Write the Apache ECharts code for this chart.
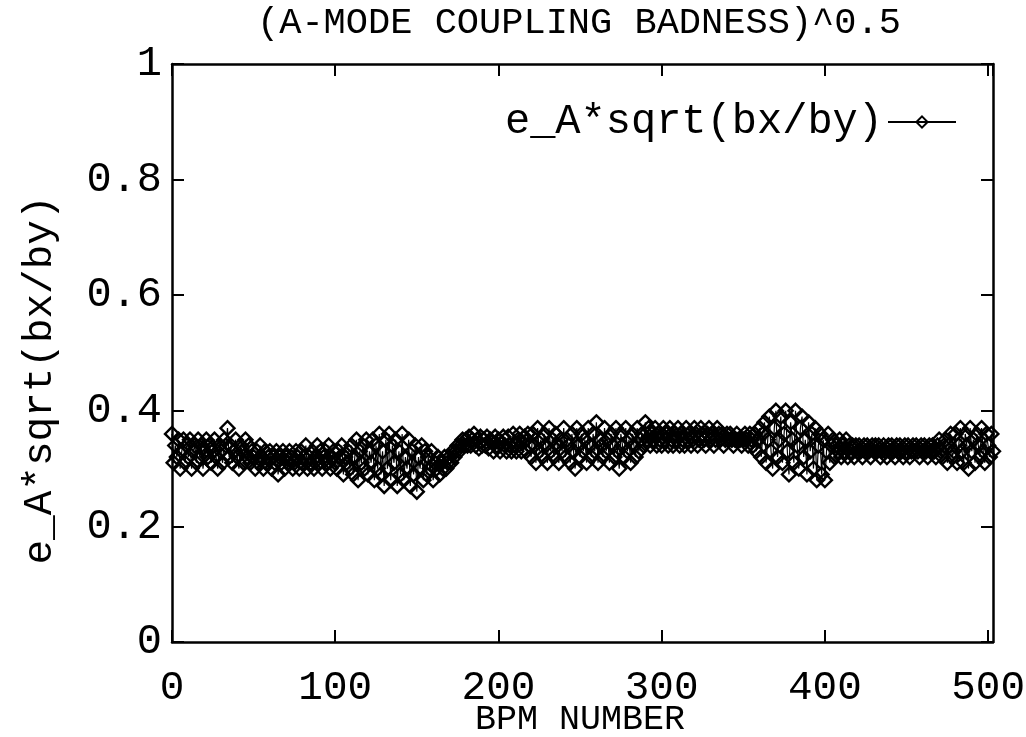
<!DOCTYPE html>
<html>
<head>
<meta charset="utf-8">
<script src="https://cdn.jsdelivr.net/npm/echarts@6/dist/echarts.min.js"></script>
<style>html,body{margin:0;padding:0;background:#fff}#c{width:1026px;height:737px}</style>
</head>
<body>
<div id="c"></div>
<script>
const titleText = '(A-MODE COUPLING BADNESS)^0.5';
const xName = 'BPM NUMBER';
const yName = 'e_A*sqrt(bx/by)';
const seriesName = 'e_A*sqrt(bx/by)';
const xTicks = [0, 100, 200, 300, 400, 500];
const yTicks = [0, 0.2, 0.4, 0.6, 0.8, 1];
// one value per BPM, BPM number = index
const couplingValues = [
0.36,0.31,0.34,0.32,0.35,0.30,0.33,0.35,0.31,0.34,0.32,0.35,
0.30,0.33,0.34,0.31,0.35,0.32,0.34,0.30,0.33,0.35,0.32,0.34,
0.31,0.33,0.35,0.32,0.30,0.34,0.33,0.31,0.35,0.34,0.37,0.32,
0.34,0.31,0.33,0.35,0.32,0.30,0.34,0.33,0.31,0.35,0.32,0.34,
0.31,0.33,0.32,0.30,0.33,0.31,0.34,0.32,0.30,0.33,0.31,0.32,
0.33,0.30,0.32,0.31,0.33,0.29,0.32,0.31,0.33,0.30,0.32,0.31,
0.33,0.32,0.30,0.31,0.33,0.32,0.30,0.33,0.31,0.32,0.34,0.30,
0.32,0.31,0.33,0.30,0.32,0.34,0.31,0.33,0.30,0.32,0.33,0.31,
0.34,0.30,0.32,0.33,0.31,0.30,0.33,0.32,0.34,0.29,0.32,0.31,
0.33,0.30,0.34,0.29,0.32,0.35,0.28,0.33,0.31,0.34,0.30,0.35,
0.29,0.33,0.31,0.35,0.28,0.34,0.30,0.36,0.29,0.33,0.27,0.35,
0.30,0.36,0.28,0.34,0.31,0.35,0.27,0.33,0.29,0.36,0.28,0.32,
0.30,0.35,0.27,0.33,0.29,0.34,0.26,0.32,0.30,0.34,0.28,0.33,
0.29,0.32,0.30,0.33,0.28,0.31,0.30,0.32,0.29,0.31,0.30,0.32,
0.30,0.31,0.32,0.31,0.33,0.32,0.33,0.34,0.33,0.34,0.35,0.34,
0.35,0.34,0.355,0.34,0.35,0.36,0.34,0.35,0.335,0.355,0.34,0.35,
0.34,0.355,0.335,0.35,0.345,0.33,0.355,0.34,0.35,0.33,0.345,0.355,
0.34,0.33,0.355,0.34,0.33,0.36,0.34,0.33,0.35,0.36,0.33,0.345,
0.355,0.33,0.36,0.34,0.32,0.36,0.34,0.31,0.37,0.33,0.35,0.32,
0.36,0.34,0.31,0.37,0.33,0.35,0.32,0.36,0.34,0.31,0.35,0.33,
0.37,0.32,0.35,0.34,0.31,0.36,0.33,0.30,0.37,0.34,0.32,0.36,
0.33,0.35,0.31,0.37,0.34,0.32,0.36,0.33,0.38,0.31,0.35,0.34,
0.32,0.37,0.33,0.35,0.31,0.36,0.34,0.32,0.37,0.33,0.30,0.36,
0.34,0.32,0.37,0.33,0.35,0.31,0.36,0.34,0.32,0.37,0.33,0.35,
0.36,0.34,0.38,0.35,0.37,0.34,0.36,0.35,0.37,0.34,0.36,0.35,
0.34,0.37,0.35,0.36,0.34,0.37,0.35,0.34,0.36,0.35,0.37,0.34,
0.36,0.35,0.34,0.37,0.35,0.36,0.34,0.35,0.37,0.36,0.34,0.35,
0.37,0.36,0.35,0.34,0.36,0.37,0.35,0.36,0.34,0.35,0.37,0.36,
0.35,0.36,0.34,0.35,0.36,0.35,0.36,0.35,0.34,0.35,0.36,0.35,
0.35,0.34,0.35,0.36,0.35,0.34,0.36,0.35,0.34,0.36,0.33,0.35,
0.37,0.32,0.36,0.38,0.31,0.35,0.39,0.33,0.30,0.37,0.40,0.32,
0.35,0.39,0.31,0.36,0.40,0.33,0.29,0.38,0.35,0.31,0.40,0.34,
0.30,0.37,0.39,0.32,0.35,0.29,0.38,0.33,0.36,0.30,0.37,0.28,
0.34,0.36,0.29,0.35,0.28,0.33,0.36,0.31,0.34,0.35,0.32,0.34,
0.33,0.35,0.32,0.34,0.33,0.35,0.32,0.34,0.33,0.34,0.32,0.34,
0.33,0.34,0.33,0.32,0.34,0.33,0.34,0.33,0.32,0.34,0.33,0.34,
0.33,0.34,0.32,0.33,0.34,0.33,0.32,0.34,0.33,0.34,0.33,0.32,
0.34,0.33,0.34,0.33,0.32,0.34,0.33,0.34,0.32,0.33,0.34,0.33,
0.34,0.33,0.32,0.34,0.33,0.34,0.33,0.32,0.34,0.33,0.34,0.33,
0.32,0.34,0.35,0.33,0.32,0.34,0.35,0.31,0.34,0.36,0.32,0.33,
0.36,0.31,0.34,0.37,0.33,0.31,0.36,0.34,0.30,0.37,0.33,0.35,
0.31,0.36,0.34,0.32,0.37,0.33,0.31,0.36,0.34,0.32,0.36,0.33
];
const xMax = 503;

const FONT = '"Liberation Mono", "DejaVu Sans Mono", monospace';
const points = couplingValues.map((v, i) => [i, v]);
const chart = echarts.init(document.getElementById('c'), null, {renderer: 'canvas'});
const axisLine = {show: true, onZero: false, lineStyle: {color: '#000', width: 2.5}};
const tick = {show: true, inside: true, length: 12, lineStyle: {color: '#000', width: 2}};
chart.setOption({
  animation: false,
  backgroundColor: '#fff',
  title: {
    text: titleText, left: 252, top: 0,
    textStyle: {fontFamily: FONT, fontSize: 37, fontWeight: 'normal', color: '#000'}
  },
  legend: {
    right: 64, top: 96, align: 'right', itemWidth: 68, itemHeight: 14,
    textStyle: {fontFamily: FONT, fontSize: 42, color: '#000'},
    data: [seriesName]
  },
  graphic: [{
    type: 'text', x: 40, y: 380, rotation: Math.PI / 2,
    style: {text: yName, fontFamily: FONT, fontSize: 41, fill: '#000', align: 'center', verticalAlign: 'middle'}
  }, {
    type: 'text', x: 580, y: 720,
    style: {text: xName, fontFamily: FONT, fontSize: 35, fill: '#000', align: 'center', verticalAlign: 'middle'}
  }],
  grid: {left: 172, right: 33, top: 64, bottom: 95, containLabel: false, outerBoundsMode: 'none'},
  xAxis: [{
    type: 'value', min: 0, max: xMax, interval: 100,
    axisLine, axisTick: tick, splitLine: {show: false},
    axisLabel: {showMaxLabel: false, margin: 26, fontFamily: FONT, fontSize: 41, color: '#000',
      formatter: v => xTicks.includes(v) ? String(v) : ''}
  }, {
    type: 'value', position: 'top', min: 0, max: xMax, interval: 100,
    axisLine, axisTick: tick, splitLine: {show: false}, axisLabel: {show: false}
  }],
  yAxis: [{
    type: 'value', min: 0, max: 1, interval: 0.2,
    axisLine, axisTick: tick, splitLine: {show: false},
    axisLabel: {margin: 10, fontFamily: FONT, fontSize: 42, color: '#000',
      formatter: v => { const t = yTicks.find(k => Math.abs(k - v) < 1e-9); return t === undefined ? '' : String(t); }}
  }, {
    type: 'value', position: 'right', min: 0, max: 1, interval: 0.2,
    axisLine, axisTick: tick, splitLine: {show: false}, axisLabel: {show: false}
  }],
  series: [{
    name: seriesName, type: 'line', data: points,
    symbol: 'diamond', symbolSize: 14, showSymbol: true, clip: false,
    itemStyle: {color: 'rgba(255,255,255,0)', borderColor: '#000', borderWidth: 2.4},
    lineStyle: {color: '#000', width: 1.2}
  }]
});
</script>
</body>
</html>
